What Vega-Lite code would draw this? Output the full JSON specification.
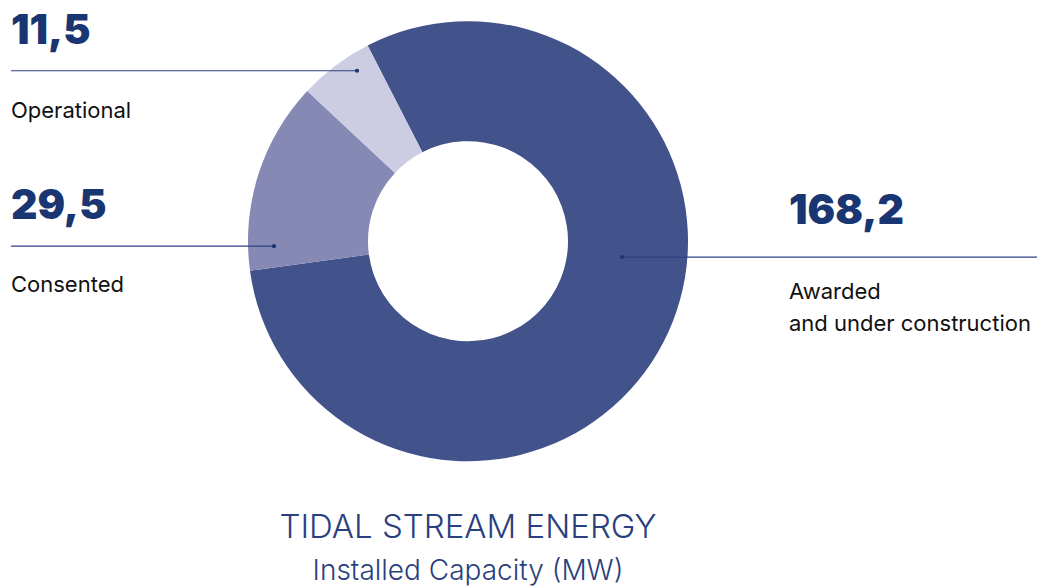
{
  "$schema": "https://vega.github.io/schema/vega-lite/v6.json",
  "width": 1044,
  "height": 587,
  "padding": 0,
  "autosize": {"type": "fit", "contains": "padding"},
  "background": "white",
  "config": {
    "view": {"stroke": null},
    "locale": {"number": {"decimal": ",", "thousands": ".", "grouping": [3], "currency": ["", " €"]}}
  },
  "datasets": {
    "slices": [
      {"category": "Awarded and under construction", "label": "Awarded\nand under construction", "value": 168.2, "ord": 1, "numX": 1.459, "numY": 0.0773, "labX": 1.459, "labY": -0.2636, "lineX": 0.7, "lineX2": 2.5864, "lineY": -0.0727, "dotX": 0.7},
      {"category": "Consented", "label": "Consented", "value": 29.5, "ord": 2, "numX": -2.0773, "numY": 0.1, "labX": -2.0773, "labY": -0.2318, "lineX": -2.0773, "lineX2": -0.8818, "lineY": -0.0227, "dotX": -0.8818},
      {"category": "Operational", "label": "Operational", "value": 11.5, "ord": 3, "numX": -2.0773, "numY": 0.9, "labX": -2.0773, "labY": 0.5636, "lineX": -2.0773, "lineX2": -0.5045, "lineY": 0.7773, "dotX": -0.5045}
    ]
  },
  "data": {"name": "slices"},
  "layer": [
    {
      "mark": {"type": "arc", "outerRadius": 220, "innerRadius": 100, "stroke": null},
      "encoding": {
        "x": {"datum": 0, "type": "quantitative", "scale": {"domain": [-2.12727, 2.61818], "nice": false, "zero": false}, "axis": null},
        "y": {"datum": 0, "type": "quantitative", "scale": {"domain": [-1.56818, 1.1], "nice": false, "zero": false}, "axis": null},
        "theta": {"field": "value", "type": "quantitative", "stack": true, "scale": {"range": [5.8093, 12.0925]}},
        "color": {"field": "category", "type": "nominal", "legend": null,
          "scale": {"domain": ["Awarded and under construction", "Consented", "Operational"], "range": ["#42528a", "#8589b3", "#cccde3"]}},
        "order": {"field": "ord", "type": "quantitative"}
      }
    },
    {
      "mark": {"type": "rule", "color": "#2e4282", "strokeWidth": 1.1},
      "encoding": {
        "x": {"field": "lineX", "type": "quantitative", "scale": {"domain": [-2.12727, 2.61818], "nice": false, "zero": false}, "axis": null},
        "x2": {"field": "lineX2"},
        "y": {"field": "lineY", "type": "quantitative", "scale": {"domain": [-1.56818, 1.1], "nice": false, "zero": false}, "axis": null}
      }
    },
    {
      "mark": {"type": "point", "filled": true, "opacity": 1, "color": "#1f3572", "size": 18},
      "encoding": {
        "x": {"field": "dotX", "type": "quantitative", "axis": null},
        "y": {"field": "lineY", "type": "quantitative", "axis": null}
      }
    },
    {
      "mark": {"type": "text", "align": "left", "baseline": "alphabetic", "font": "Inter", "fontWeight": 900, "fontSize": 41, "color": "#1a3672"},
      "encoding": {
        "x": {"field": "numX", "type": "quantitative", "axis": null},
        "y": {"field": "numY", "type": "quantitative", "axis": null},
        "text": {"field": "value", "type": "quantitative", "format": ".1f"}
      }
    },
    {
      "mark": {"type": "text", "align": "left", "baseline": "alphabetic", "font": "Inter", "fontWeight": 400, "fontSize": 22, "color": "#111111", "lineBreak": "\n", "lineHeight": 32},
      "encoding": {
        "x": {"field": "labX", "type": "quantitative", "axis": null},
        "y": {"field": "labY", "type": "quantitative", "axis": null},
        "text": {"field": "label", "type": "nominal"}
      }
    },
    {
      "data": {"values": [{"t": "TIDAL STREAM ENERGY", "tx": 0, "ty": -1.3545}]},
      "mark": {"type": "text", "align": "center", "baseline": "alphabetic", "font": "Inter", "fontWeight": 300, "fontSize": 33, "color": "#2a3f7e"},
      "encoding": {
        "x": {"field": "tx", "type": "quantitative", "axis": null},
        "y": {"field": "ty", "type": "quantitative", "axis": null},
        "text": {"field": "t", "type": "nominal"}
      }
    },
    {
      "data": {"values": [{"t": "Installed Capacity (MW)", "tx": 0, "ty": -1.5455}]},
      "mark": {"type": "text", "align": "center", "baseline": "alphabetic", "font": "Inter", "fontWeight": 300, "fontSize": 28, "color": "#2a3f7e"},
      "encoding": {
        "x": {"field": "tx", "type": "quantitative", "axis": null},
        "y": {"field": "ty", "type": "quantitative", "axis": null},
        "text": {"field": "t", "type": "nominal"}
      }
    }
  ]
}
